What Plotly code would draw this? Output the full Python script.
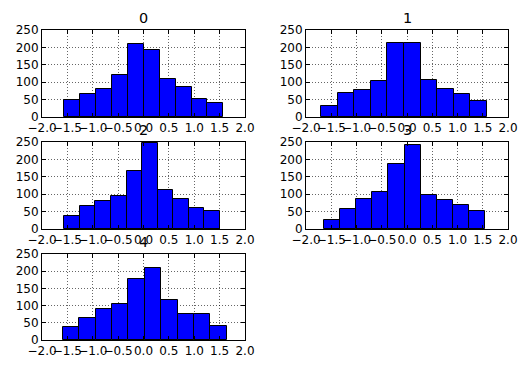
import numpy as np
import plotly.graph_objects as go

# Data (pandas DataFrame.hist, 5 columns, 10 bins each)
series_names = ["0", "1", "2", "3", "4"]
counts_0 = [48, 65, 80, 120, 210, 193, 108, 86, 51, 40]
counts_1 = [32, 68, 78, 104, 213, 213, 106, 80, 65, 45]
counts_2 = [38, 66, 80, 95, 167, 248, 112, 86, 60, 51]
counts_3 = [27, 57, 86, 107, 187, 242, 98, 83, 69, 51]
counts_4 = [39, 64, 91, 105, 178, 210, 117, 76, 76, 41]
bin_lo = [-1.561, -1.703, -1.561, -1.637, -1.587]
bin_hi = [1.574, 1.584, 1.508, 1.538, 1.639]
all_counts = [counts_0, counts_1, counts_2, counts_3, counts_4]

x_tick_vals = [-2.0, -1.5, -1.0, -0.5, 0.0, 0.5, 1.0, 1.5, 2.0]
x_tick_text = ["\u22122.0", "\u22121.5", "\u22121.0", "\u22120.5", "0.0", "0.5", "1.0", "1.5", "2.0"]
y_tick_vals = [0, 50, 100, 150, 200, 250]

W, H = 528, 370
col_px = [(42, 245), (306, 508)]
row_px = [(30, 117), (142, 229), (254, 340)]

fig = go.Figure()
font = dict(family="DejaVu Sans", size=12, color="black")
annotations = []
layout_axes = {}

for i, name in enumerate(series_names):
    r, c = divmod(i, 2)
    edges = np.linspace(bin_lo[i], bin_hi[i], len(all_counts[i]) + 1)
    centers = (edges[:-1] + edges[1:]) / 2
    widths = np.diff(edges)
    ax = "" if i == 0 else str(i + 1)
    fig.add_trace(go.Bar(
        x=centers, y=all_counts[i], width=widths,
        marker=dict(color="#0000ff", line=dict(color="black", width=1)),
        xaxis="x" + ax, yaxis="y" + ax, showlegend=False, hoverinfo="skip",
    ))
    x0, x1 = col_px[c]
    y0, y1 = row_px[r]
    xd = [x0 / W, x1 / W]
    yd = [1 - y1 / H, 1 - y0 / H]
    common = dict(showline=True, linecolor="black", linewidth=1, mirror="ticks",
                  ticks="inside", ticklen=4, tickcolor="black", tickangle=0,
                  showgrid=True, gridcolor="rgba(0,0,0,0.6)", gridwidth=0.6, griddash="1px,2px",
                  zeroline=False, tickfont=font, fixedrange=True, automargin=False)
    layout_axes["xaxis" + ax] = dict(common, domain=xd, range=[-2, 2],
                                     tickvals=x_tick_vals, ticktext=x_tick_text,
                                     anchor="y" + ax)
    layout_axes["yaxis" + ax] = dict(common, domain=yd, range=[0, 250],
                                     tickvals=y_tick_vals, anchor="x" + ax)
    annotations.append(dict(text=name, x=(xd[0] + xd[1]) / 2, y=yd[1], xref="paper", yref="paper",
                            xanchor="center", yanchor="bottom", yshift=2, showarrow=False,
                            font=dict(family="DejaVu Sans", size=14.4, color="black")))

fig.update_layout(width=W, height=H, margin=dict(l=0, r=0, t=0, b=0),
                  paper_bgcolor="white", plot_bgcolor="white", bargap=0,
                  annotations=annotations, **layout_axes)

fig.write_html("out.html")
